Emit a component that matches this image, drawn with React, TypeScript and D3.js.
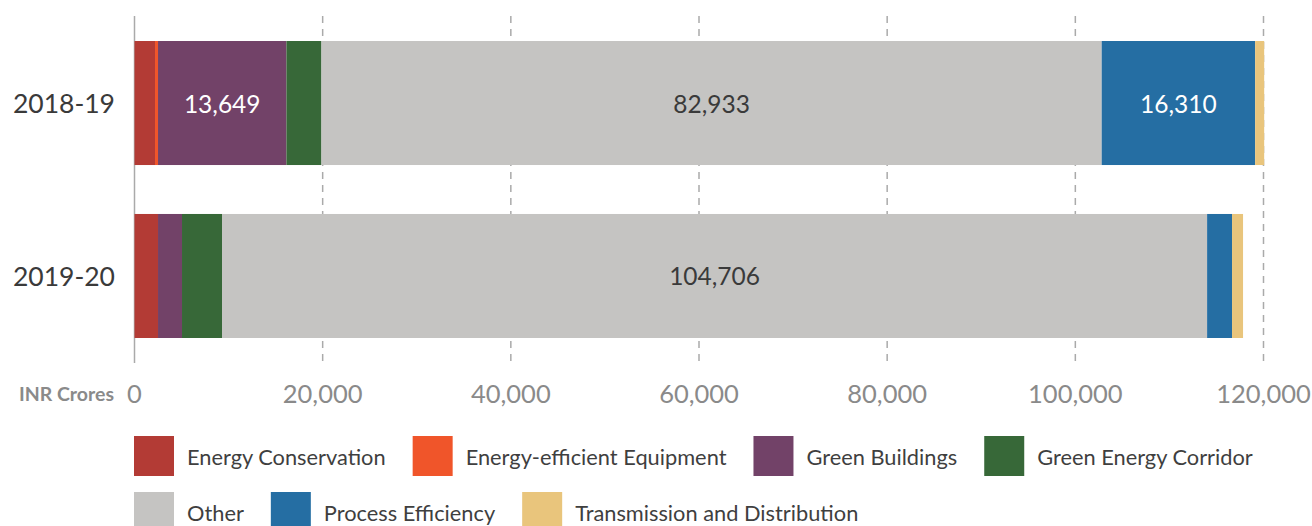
import React, { useRef, useEffect } from 'react'
import * as d3 from 'd3'

const years = ['2018-19', '2019-20']
const categories = [
  'Energy Conservation',
  'Energy-efficient Equipment',
  'Green Buildings',
  'Green Energy Corridor',
  'Other',
  'Process Efficiency',
  'Transmission and Distribution'
]
const colors = ['#b33b35', '#f0552a', '#724268', '#376838', '#c5c4c2', '#256ea3', '#e9c57c']
const values2018 = [2180, 320, 13649, 3720, 82933, 16310, 960]
const values2019 = [2500, 0, 2550, 4250, 104706, 2650, 1170]
const xTicks = [0, 20000, 40000, 60000, 80000, 100000, 120000]
const labelled = ['Green Buildings', 'Other', 'Process Efficiency']
const legendRows = [
  ['Energy Conservation', 'Energy-efficient Equipment', 'Green Buildings', 'Green Energy Corridor'],
  ['Other', 'Process Efficiency', 'Transmission and Distribution']
]

const W = 1312
const H = 526
const FONT = 'Lato, "Open Sans", sans-serif'

export default function App() {
  const svgRef = useRef<SVGSVGElement>(null)

  useEffect(() => {
    if (!svgRef.current) return
    const svg = d3.select(svgRef.current)
    svg.selectAll('*').remove()

    const x = d3.scaleLinear().domain([0, 120000]).range([134.5, 1263.5])
    const y = d3.scaleBand().domain(years).range([41, 338]).paddingInner(0.283).paddingOuter(0)
    const color = d3.scaleOrdinal<string, string>().domain(categories).range(colors)

    // gridlines
    svg.append('g')
      .selectAll('line')
      .data(xTicks.slice(1))
      .enter()
      .append('line')
      .attr('x1', d => x(d)).attr('x2', d => x(d))
      .attr('y1', 16).attr('y2', 363)
      .attr('stroke', '#aaa')
      .attr('stroke-width', 1.5)
      .attr('stroke-dasharray', '7,6')

    svg.append('line')
      .attr('x1', x(0)).attr('x2', x(0))
      .attr('y1', 16).attr('y2', 363)
      .attr('stroke', '#aaa')
      .attr('stroke-width', 1.5)

    // stacked bars
    const rows = years.map((yr, i) => {
      const vals = i === 0 ? values2018 : values2019
      const obj: any = { year: yr }
      categories.forEach((c, j) => { obj[c] = vals[j] })
      return obj
    })
    const series = d3.stack().keys(categories)(rows)

    const bars = svg.append('g')
    series.forEach(s => {
      bars.append('g')
        .attr('fill', color(s.key))
        .selectAll('rect')
        .data(s)
        .enter()
        .append('rect')
        .attr('x', d => x(d[0]))
        .attr('y', d => y((d.data as any).year)!)
        .attr('width', d => Math.max(0, x(d[1]) - x(d[0])))
        .attr('height', y.bandwidth())
    })

    // value labels
    series.forEach(s => {
      s.forEach(d => {
        const v = d[1] - d[0]
        if (v < 10000 || !labelled.includes(s.key)) return
        const dark = s.key === 'Other'
        svg.append('text')
          .attr('x', (x(d[0]) + x(d[1])) / 2)
          .attr('y', y((d.data as any).year)! + y.bandwidth() / 2)
          .attr('text-anchor', 'middle')
          .attr('dominant-baseline', 'central')
          .attr('font-family', FONT)
          .attr('font-size', 24.5)
          .attr('fill', dark ? '#3a3a3a' : '#fff')
          .text(d3.format(',')(v))
      })
    })

    // category labels
    svg.append('g')
      .selectAll('text')
      .data(years)
      .enter()
      .append('text')
      .attr('x', 115)
      .attr('y', d => y(d)! + y.bandwidth() / 2)
      .attr('text-anchor', 'end')
      .attr('dominant-baseline', 'central')
      .attr('font-family', FONT)
      .attr('font-size', 26.5)
      .attr('fill', '#3a3a3a')
      .text(d => d)

    // x tick labels
    svg.append('g')
      .selectAll('text')
      .data(xTicks)
      .enter()
      .append('text')
      .attr('x', d => x(d))
      .attr('y', 393)
      .attr('text-anchor', 'middle')
      .attr('dominant-baseline', 'central')
      .attr('font-family', FONT)
      .attr('font-size', 25.5)
      .attr('fill', '#8a8a8a')
      .text(d => d3.format(',')(d))

    svg.append('text')
      .attr('x', 114)
      .attr('y', 393)
      .attr('text-anchor', 'end')
      .attr('dominant-baseline', 'central')
      .attr('font-family', FONT)
      .attr('font-weight', 'bold')
      .attr('font-size', 19.5)
      .attr('fill', '#8a8a8a')
      .text('INR Crores')

    // legend
    const rowY = [436, 492]
    legendRows.forEach((row, ri) => {
      let cx = 134
      row.forEach(name => {
        const g = svg.append('g').attr('transform', `translate(${cx},${rowY[ri]})`)
        g.append('rect')
          .attr('width', 40).attr('height', 40)
          .attr('fill', color(name))
        const t = g.append('text')
          .attr('x', 53)
          .attr('y', 20)
          .attr('dominant-baseline', 'central')
          .attr('font-family', FONT)
          .attr('font-size', 21.8)
          .attr('fill', '#3f3f3f')
          .text(name)
        const tw = (t.node() as SVGTextElement).getComputedTextLength()
        cx += 53 + tw + 27
      })
    })
  }, [])

  return (
    <svg
      ref={svgRef}
      width={W}
      height={H}
      style={{ position: 'absolute', left: 0, top: 0, background: '#fff' }}
    />
  )
}
